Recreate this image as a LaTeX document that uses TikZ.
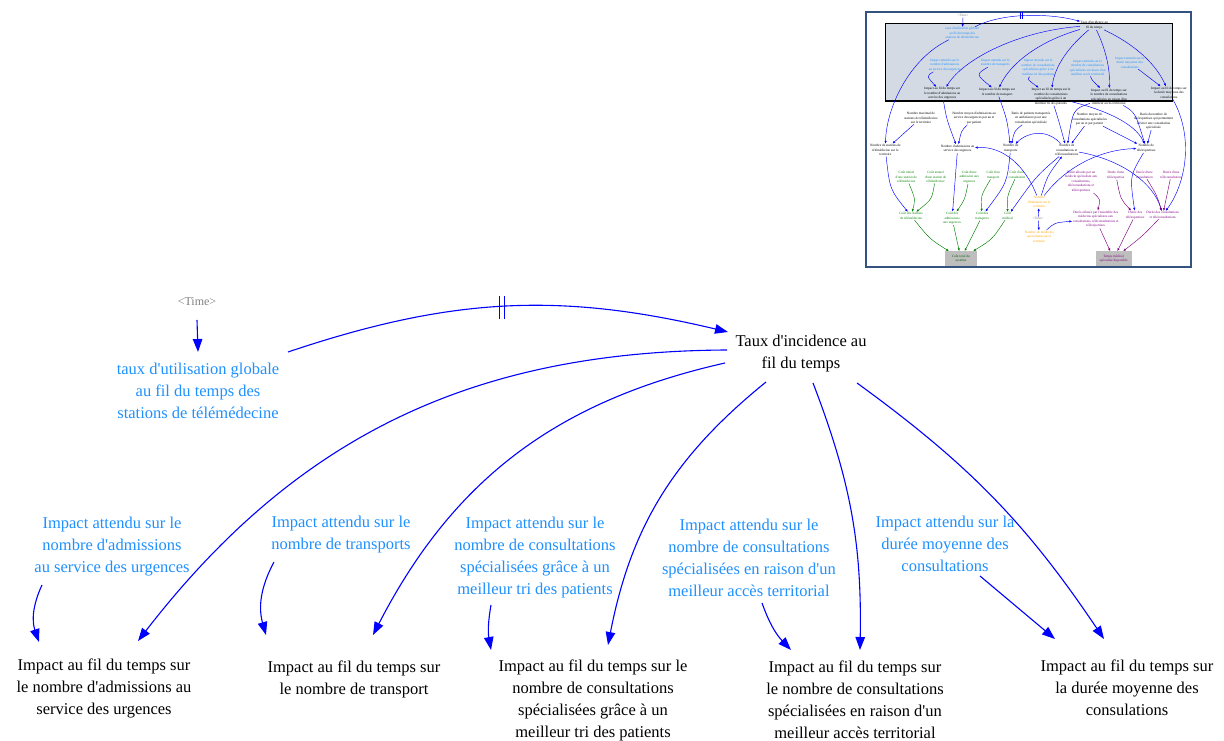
\documentclass[tikz,border=0pt]{standalone}
\usepackage{fontspec}
\setmainfont{Liberation Serif}[Ligatures=TeXOff]
\usetikzlibrary{arrows.meta}
\definecolor{vs-bleu}{HTML}{1E90FF}
\definecolor{vs-fleche}{HTML}{0000FF}
\definecolor{vs-gris}{HTML}{808080}
\definecolor{vs-vert}{HTML}{008000}
\definecolor{vs-orange}{HTML}{FFA500}
\definecolor{vs-violet}{HTML}{800080}
\definecolor{vs-cadre}{HTML}{34527F}
\definecolor{vs-fond}{HTML}{D3DAE3}
\definecolor{vs-boite}{HTML}{BEBEBE}

\tikzset{
  var/.style={align=center, inner sep=0pt, font=\fontsize{16.5}{22}\selectfont},
  aux/.style={var, text=vs-bleu},
  ombre/.style={inner sep=0pt, text=vs-gris, font=\fontsize{12}{14}\selectfont},
  fleche/.style={->, vs-fleche, line width=1.1pt},
  mini/.style={align=center, inner sep=0.6pt, font=\fontsize{3.4}{4.5}\selectfont},
  miniboite/.style={mini, fill=vs-boite, minimum width=32pt, minimum height=15pt},
  minifleche/.style={-{Triangle[length=2.6pt,width=2pt]}, vs-fleche, line width=0.45pt},
  minivert/.style={minifleche, vs-vert},
  miniviolet/.style={minifleche, vs-violet},
}

\begin{document}
\begin{tikzpicture}[x=1pt, y=1pt, >={Triangle[length=13pt,width=9.5pt]}]
    \useasboundingbox (0,0) rectangle (1224,740);

    % Variables du haut
    \node[ombre] (time) at (197,438) {<Time>};
    \node[aux] (taux) at (198,349) {taux d'utilisation globale\\au fil du temps des\\stations de télémédecine};
    \node[var] (inc) at (801,386) {Taux d'incidence au\\fil du temps};

    % Impacts attendus (constantes)
    \node[aux] (b1) at (112,193) {Impact attendu sur le\\nombre d'admissions\\au service des urgences};
    \node[aux] (b2) at (341,205) {Impact attendu sur le\\nombre de transports};
    \node[aux] (b3) at (535,182.5) {Impact attendu sur le\\nombre de consultations\\spécialisées grâce à un\\meilleur tri des patients};
    \node[aux] (b4) at (749,182.5) {Impact attendu sur le\\nombre de consultations\\spécialisées en raison d'un\\meilleur accès territorial};
    \node[aux] (b5) at (945,196) {Impact attendu sur la\\durée moyenne des\\consultations};

    % Impacts au fil du temps
    \node[var] (k1) at (104,52) {Impact au fil du temps sur\\le nombre d'admissions au\\service des urgences};
    \node[var] (k2) at (354,61) {Impact au fil du temps sur\\le nombre de transport};
    \node[var] (k3) at (593,40) {Impact au fil du temps sur le\\nombre de consultations\\spécialisées grâce à un\\meilleur tri des patients};
    \node[var] (k4) at (855,40) {Impact au fil du temps sur\\le nombre de consultations\\spécialisées en raison d'un\\meilleur accès territorial};
    \node[var] (k5) at (1127,52) {Impact au fil du temps sur\\la durée moyenne des\\consulations};

    % Liens avec retard
    \draw[fleche] ([yshift=-18pt]time.center) -- ([yshift=39pt]taux.center);
    \draw[fleche] ([shift={(90,39)}]taux.center) to[bend left=16] coordinate[pos=0.49] (retard) ([shift={(-73,22)}]inc.center);
    \draw[vs-fleche, line width=1pt] (retard) ++(-2.5,-12) -- ++(0,23);
    \draw[vs-fleche, line width=1pt] (retard) ++(2.5,-12) -- ++(0,23);

    % Liens du taux d'incidence vers les impacts
    \draw[fleche] ([shift={(-74,4)}]inc.center) to[bend right=26] ([shift={(34,47)}]k1.center);
    \draw[fleche] ([shift={(-76,-9)}]inc.center) to[bend right=25] ([shift={(19,44)}]k2.center);
    \draw[fleche] ([shift={(-35,-28)}]inc.center) to[bend right=20] ([shift={(15,55)}]k3.center);
    \draw[fleche] ([shift={(12,-29)}]inc.center) to[bend left=11] ([shift={(5,50)}]k4.center);
    \draw[fleche] ([shift={(56,-29)}]inc.center) to[bend left=10] ([shift={(-23,49)}]k5.center);

    % Liens des impacts attendus
    \draw[fleche] ([shift={(-70,-38)}]b1.center) to[bend right=22] ([shift={(-65,46)}]k1.center);
    \draw[fleche] ([shift={(-67,-27)}]b2.center) to[bend right=22] ([shift={(-88,44)}]k2.center);
    \draw[fleche] ([shift={(-44,-47.5)}]b3.center) to[bend right=10] ([shift={(-102,50)}]k3.center);
    \draw[fleche] ([shift={(13,-45.5)}]b4.center) to[bend right=12] ([shift={(-64,50)}]k4.center);
    \draw[fleche] ([shift={(35,-32)}]b5.center) -- ([shift={(-72,49)}]k5.center);

    % Vue d'ensemble (miniature du modele complet)
    \begin{scope}[shift={(864.17,730.67)}, xscale=0.3663, yscale=-0.3333]
        \draw[vs-cadre, fill=white, line width=2pt] (5,8) rectangle (893,772);
        \draw[fill=vs-fond, line width=1.1pt] (58,42) rectangle (842,275);

        % partie reprise de la vue principale
        \node[mini, text=vs-gris] (tTime) at (270,18) {<Time>};
        \node[mini, text=vs-bleu] (tTaux) at (268,72) {taux d'utilisation globale\\au fil du temps des\\stations de télémédecine};
        \node[mini] (tInc) at (628,48) {Taux d'incidence au\\fil du temps};
        \node[mini, text=vs-bleu] (tB1) at (220,167) {Impact attendu sur le\\nombre d'admissions\\au service des urgences};
        \node[mini, text=vs-bleu] (tB2) at (358,160) {Impact attendu sur le\\nombre de transports};
        \node[mini, text=vs-bleu] (tB3) at (475,175) {Impact attendu sur le\\nombre de consultations\\spécialisées grâce à un\\meilleur tri des patients};
        \node[mini, text=vs-bleu] (tB4) at (610,175) {Impact attendu sur le\\nombre de consultations\\spécialisées en raison d'un\\meilleur accès territorial};
        \node[mini, text=vs-bleu] (tB5) at (725,160) {Impact attendu sur la\\durée moyenne des\\consultations};
        \node[mini] (tK1) at (213,253) {Impact au fil du temps sur\\le nombre d'admissions au\\service des urgences};
        \node[mini] (tK2) at (363,248) {Impact au fil du temps sur\\le nombre de transport};
        \node[mini] (tK3) at (510,262) {Impact au fil du temps sur le\\nombre de consultations\\spécialisées grâce à un\\meilleur tri des patients};
        \node[mini] (tK4) at (668,262) {Impact au fil du temps sur\\le nombre de consultations\\spécialisées en raison d'un\\meilleur accès territorial};
        \node[mini] (tK5) at (832,250) {Impact au fil du temps sur\\la durée moyenne des\\consulations};

        % variables du reste du modele
        \node[mini] (tNmax) at (155,326) {Nombre maximal de\\stations de télémédecine\\sur le territoire};
        \node[mini] (tNmoyAdm) at (300,326) {Nombre moyen d'admissions au\\service des urgences par an et\\par patient};
        \node[mini] (tRatioT) at (455,326) {Ratio de patients transportés\\en ambulance pour une\\consultation spécialisée};
        \node[mini] (tNmoyC) at (615,330) {Nombre moyen de\\consultations spécialisées\\par an et par patient};
        \node[mini] (tRatioTE) at (790,335) {Ratio du nombre de\\téléexpertises qui permettent\\d'éviter une consultation\\spécialisée};
        \node[mini] (tNst) at (58,422) {Nombre de stations de\\télémédecine sur le\\territoire};
        \node[mini] (tNadm) at (255,418) {Nombre d'admissions au\\service des urgences};
        \node[mini] (tNtr) at (400,417) {Nombre de\\transports};
        \node[mini] (tNcons) at (553,422) {Nombre de\\consultations et\\téléconsultations};
        \node[mini] (tNte) at (770,417) {Nombre de\\téléexpertises};

        % couts
        \node[mini, text=vs-vert] (tCis) at (115,503) {Coût initial\\d'une station de\\télémédecine};
        \node[mini, text=vs-vert] (tCas) at (195,503) {Coût annuel\\d'une station de\\télémédecine};
        \node[mini, text=vs-vert] (tCadm) at (287,503) {Coût d'une\\admission aux\\urgences};
        \node[mini, text=vs-vert] (tCtr) at (352,497) {Coût d'un\\transport};
        \node[mini, text=vs-vert] (tCcons) at (417,497) {Coût d'une\\consultation};
        \node[mini, text=vs-vert] (tCst) at (128,620) {Coût des stations\\de télémédecine};
        \node[mini, text=vs-vert] (tCadmT) at (240,627) {Coût des\\admissions\\aux urgences};
        \node[mini, text=vs-vert] (tCtrT) at (322,620) {Coût des\\transports};
        \node[mini, text=vs-vert] (tCmed) at (392,620) {Coût\\médical};
        \node[miniboite, text=vs-vert!70!black] (tTotal) at (264,748) {Coût total du\\système};

        % population et medecins
        \node[mini, text=vs-orange] (tHab) at (478,578) {Nombre\\d'habitants sur le\\territoire};
        \node[mini, text=vs-gris] (tTime2) at (475,628) {<Time>};
        \node[mini, text=vs-orange] (tMed) at (478,682) {Nombre de médecins\\spécialistes sur le\\territoire};

        % durees
        \node[mini, text=vs-violet] (tDalloc) at (592,517) {Durée allouée par un\\médecin spécialiste aux\\consultations,\\téléconsultations et\\téléexpertises};
        \node[mini, text=vs-violet] (tDte) at (687,497) {Durée d'une\\téléexpertise};
        \node[mini, text=vs-violet] (tDc) at (765,497) {Durée d'une\\consultation};
        \node[mini, text=vs-violet] (tDtc) at (838,497) {Durée d'une\\téléconsultation};
        \node[mini, text=vs-violet] (tDtot) at (632,630) {Durée allouée par l'ensemble des\\médecins spécialistes aux\\consultations, téléconsultations et\\téléexpertises};
        \node[mini, text=vs-violet] (tDteT) at (740,617) {Durée des\\téléexpertises};
        \node[mini, text=vs-violet] (tDcT) at (815,617) {Durée des consultations\\et téléconsultations};
        \node[miniboite, minimum width=36pt, text=vs-violet] (tTemps) at (681,748) {Temps médical\\spécialisé disponible};

        % liens du cadre gris
        \draw[minifleche] (tTime) -- (tTaux);
        \draw[minifleche] (tTaux) .. controls (380,8) and (510,12) .. (tInc) coordinate[pos=0.45] (tRetard);
        \draw[vs-fleche, line width=0.5pt] (tRetard) ++(-3,-10) -- ++(0,20);
        \draw[vs-fleche, line width=0.5pt] (tRetard) ++(3,-10) -- ++(0,20);
        \draw[minifleche] (tInc) .. controls (420,65) and (270,150) .. (tK1);
        \draw[minifleche] (tInc) .. controls (480,95) and (400,160) .. (tK2);
        \draw[minifleche] (tInc) .. controls (560,110) and (520,170) .. (tK3);
        \draw[minifleche] (tInc) .. controls (655,110) and (672,170) .. (tK4);
        \draw[minifleche] (tInc) .. controls (720,95) and (790,150) .. (tK5);
        \draw[minifleche] (tB1) .. controls (170,200) .. (tK1);
        \draw[minifleche] (tB2) .. controls (305,195) .. (tK2);
        \draw[minifleche] (tB3) .. controls (445,210) .. (tK3);
        \draw[minifleche] (tB4) .. controls (620,210) .. (tK4);
        \draw[minifleche] (tB5) -- (tK5);

        % liens vers les nombres
        \draw[minifleche] (tTaux) .. controls (120,150) and (60,300) .. (tNst);
        \draw[minifleche] (tNmax) -- (tNst);
        \draw[minifleche] (tK1) .. controls (225,330) .. (tNadm);
        \draw[minifleche] (tNmoyAdm) .. controls (265,365) .. (tNadm);
        \draw[minifleche] (tK2) .. controls (390,330) .. (tNtr);
        \draw[minifleche] (tRatioT) .. controls (410,365) .. (tNtr);
        \draw[minifleche] (tNcons) .. controls (500,360) and (450,365) .. (tNtr);
        \draw[minifleche] (tK3) .. controls (530,330) .. (tNcons);
        \draw[minifleche] (tK4) .. controls (570,300) .. (tNcons);
        \draw[minifleche] (tNmoyC) -- (tNcons);
        \draw[minifleche] (tK3) .. controls (650,300) and (740,340) .. (tNte);
        \draw[minifleche] (tK4) .. controls (740,310) .. (tNte);
        \draw[minifleche] (tNmoyC) -- (tNte);
        \draw[minifleche] (tRatioTE) -- (tNte);
        \draw[minifleche] (tHab) .. controls (440,470) and (380,410) .. (tNadm);
        \draw[minifleche] (tHab) .. controls (500,500) .. (tNcons);
        \draw[minifleche] (tHab) .. controls (560,460) and (660,420) .. (tNte);
        \draw[minifleche] (tTime2) -- (tHab);
        \draw[minifleche] (tTime2) -- (tMed);

        % liens vers les couts et les durees
        \draw[minifleche] (tNst) .. controls (70,540) .. (tCst);
        \draw[minifleche] (tNadm) -- (tCadmT);
        \draw[minifleche] (tNtr) .. controls (390,520) .. (tCtrT);
        \draw[minifleche] (tNcons) .. controls (470,500) .. (tCmed);
        \draw[minifleche] (tNcons) .. controls (700,450) and (790,520) .. (tDcT);
        \draw[minifleche] (tK5) .. controls (900,380) and (880,520) .. (tDcT);
        \draw[minifleche] (tNte) .. controls (725,500) .. (tDteT);
        \draw[minifleche] (tMed) .. controls (520,640) .. (tDtot);
        \draw[minivert] (tCis) .. controls (140,570) .. (tCst);
        \draw[minivert] (tCas) .. controls (185,570) .. (tCst);
        \draw[minivert] (tCadm) .. controls (275,570) .. (tCadmT);
        \draw[minivert] (tCtr) .. controls (318,560) .. (tCtrT);
        \draw[minivert] (tCcons) .. controls (390,560) .. (tCmed);
        \draw[minivert] (tCst) .. controls (180,690) .. (tTotal);
        \draw[minivert] (tCadmT) -- (tTotal);
        \draw[minivert] (tCtrT) -- (tTotal);
        \draw[minivert] (tCmed) .. controls (350,690) .. (tTotal);
        \draw[miniviolet] (tDalloc) .. controls (645,570) .. (tDtot);
        \draw[miniviolet] (tDte) .. controls (700,570) .. (tDteT);
        \draw[miniviolet] (tDc) .. controls (800,560) .. (tDcT);
        \draw[miniviolet] (tDtc) -- (tDcT);
        \draw[miniviolet] (tDtot) -- (tTemps);
        \draw[miniviolet] (tDteT) -- (tTemps);
        \draw[miniviolet] (tDcT) .. controls (760,680) .. (tTemps);
    \end{scope}

\end{tikzpicture}
\end{document}
